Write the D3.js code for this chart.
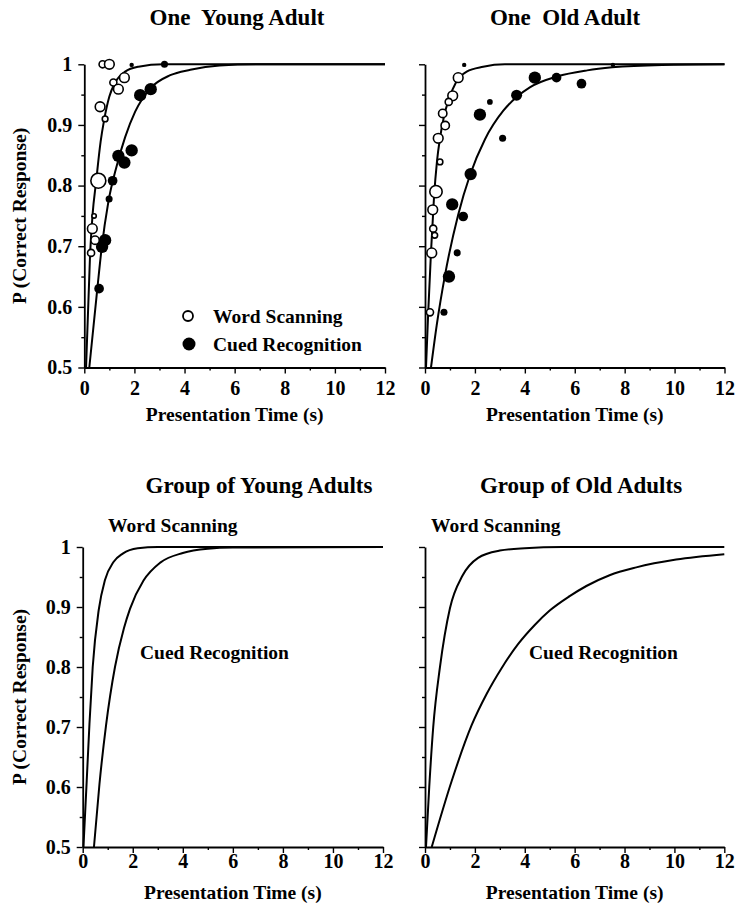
<!DOCTYPE html>
<html>
<head>
<meta charset="utf-8">
<script src="https://cdn.jsdelivr.net/npm/d3@7"></script>
<style>
  body { margin: 0; background: #fff; }
  svg text { font-family: "Liberation Serif", "DejaVu Serif", serif; font-weight: bold; fill: #000; white-space: pre; }
</style>
</head>
<body>
<div id="chart"></div>
<script>
// ---------------------------------------------------------------- data
const xTicks = [0, 2, 4, 6, 8, 10, 12];
const yTicks = [0.5, 0.6, 0.7, 0.8, 0.9, 1];
const yTickLabels = ["0.5", "0.6", "0.7", "0.8", "0.9", "1"];
const panelTitles = ["One  Young Adult", "One  Old Adult", "Group of Young Adults", "Group of Old Adults"];
const seriesNames = ["Word Scanning", "Cued Recognition"];

// points: [time (s), P(correct), relative n]
const youngWordPts = [[0.73, 1.0, 2], [1.0, 1.0, 3], [1.16, 0.97, 2], [1.36, 0.959, 3], [1.6, 0.978, 3],
  [0.63, 0.93, 3], [0.83, 0.91, 1.5], [0.56, 0.808, 5], [0.39, 0.75, 1], [0.32, 0.729, 3],
  [0.43, 0.71, 2.5], [0.27, 0.689, 2]];
const youngCuedPts = [[1.89, 0.999, 1], [3.2, 1.0, 2], [2.23, 0.949, 4], [2.65, 0.959, 4], [1.36, 0.849, 4],
  [1.89, 0.858, 4], [1.6, 0.838, 4], [1.13, 0.808, 3], [0.99, 0.778, 2], [0.83, 0.71, 4],
  [0.71, 0.699, 4], [0.59, 0.63, 3]];
const oldWordPts = [[1.33, 0.978, 3], [1.11, 0.948, 3], [0.95, 0.938, 2], [0.71, 0.919, 2.5], [0.81, 0.899, 2.5],
  [0.53, 0.878, 3], [0.6, 0.839, 1.5], [0.44, 0.79, 4], [0.31, 0.76, 3], [0.33, 0.729, 2],
  [0.39, 0.718, 1.5], [0.27, 0.689, 3], [0.2, 0.591, 2]];
const oldCuedPts = [[1.57, 0.999, 1], [7.53, 0.999, 1], [4.4, 0.978, 4], [5.27, 0.978, 3], [6.27, 0.968, 3],
  [3.67, 0.949, 3.5], [2.6, 0.938, 1.5], [2.2, 0.917, 4], [3.11, 0.878, 2], [1.83, 0.819, 4],
  [1.09, 0.769, 4], [1.53, 0.749, 3], [1.29, 0.689, 2], [0.96, 0.65, 4], [0.76, 0.591, 2]];

// fitted curves, traced: [time (s), P]
const youngWordFit = [[0.07, 0.5], [0.23, 0.686], [0.33, 0.752], [0.47, 0.806], [0.65, 0.872], [0.79, 0.908],
  [1.0, 0.947], [1.23, 0.97], [1.63, 0.988], [2.16, 0.996], [3.16, 1.0], [12, 1.0]];
const youngCuedFit = [[0.2, 0.5], [0.52, 0.63], [0.69, 0.696], [0.96, 0.773], [1.29, 0.832], [1.63, 0.88],
  [2.03, 0.922], [2.63, 0.96], [3.43, 0.982], [4.23, 0.991], [5.4, 0.998], [7, 1.0], [12, 1.0]];
const oldWordFit = [[0.04, 0.5], [0.13, 0.592], [0.24, 0.69], [0.36, 0.78], [0.48, 0.84], [0.6, 0.878],
  [0.76, 0.914], [0.97, 0.944], [1.24, 0.97], [1.67, 0.988], [2.33, 0.996], [3.2, 1.0], [12, 1.0]];
const oldCuedFit = [[0.24, 0.5], [0.47, 0.57], [0.8, 0.652], [1.33, 0.752], [1.8, 0.817], [2.4, 0.876],
  [3.13, 0.923], [3.67, 0.946], [4.2, 0.962], [5.3, 0.98], [6.5, 0.99], [7.5, 0.995], [9.5, 0.999], [12, 1.0]];
const groupYoungWordFit = [[0.03, 0.5], [0.16, 0.61], [0.27, 0.705], [0.4, 0.8], [0.64, 0.895], [0.89, 0.945],
  [1.23, 0.975], [1.6, 0.989], [2.2, 0.998], [3, 1.0], [12, 1.0]];
const groupYoungCuedFit = [[0.45, 0.5], [0.67, 0.605], [0.93, 0.702], [1.29, 0.8], [1.65, 0.865], [1.89, 0.897],
  [2.43, 0.944], [3.1, 0.974], [4, 0.99], [5, 0.997], [6, 0.999], [12, 1.0]];
const groupOldWordFit = [[0.04, 0.5], [0.17, 0.6], [0.33, 0.7], [0.6, 0.8], [1.0, 0.898], [1.5, 0.952],
  [2.13, 0.982], [3, 0.994], [4, 0.998], [5.5, 1.0], [12, 1.0]];
const groupOldCuedFit = [[0.27, 0.5], [1.07, 0.61], [1.87, 0.703], [2.47, 0.755], [3.07, 0.798], [3.73, 0.838],
  [4.4, 0.87], [5.0, 0.894], [5.8, 0.918], [6.47, 0.935], [7.4, 0.953], [8.47, 0.966], [10.07, 0.979], [12, 0.988]];

// ---------------------------------------------------------------- layout
const width = 737;
const height = 905;
const serif = "'Liberation Serif', 'DejaVu Serif', serif";

const panels = [
  { title: panelTitles[0], left: 84.3, right: 385, top: 64.3, bottom: 367.5, titleX: 237, titleY: 25,
    pad: 7, xTitleY: 421, yLabels: true, fits: [youngWordFit, youngCuedFit], open: youngWordPts, filled: youngCuedPts },
  { title: panelTitles[1], left: 425, right: 724.5, top: 64.3, bottom: 367.5, titleX: 565, titleY: 25,
    pad: 7, xTitleY: 421, yLabels: false, fits: [oldWordFit, oldCuedFit], open: oldWordPts, filled: oldCuedPts },
  { title: panelTitles[2], left: 82.7, right: 383, top: 547, bottom: 847, titleX: 259, titleY: 493,
    pad: 1, xTitleY: 899, yLabels: true, fits: [groupYoungWordFit, groupYoungCuedFit], open: [], filled: [] },
  { title: panelTitles[3], left: 425, right: 724.3, top: 547, bottom: 847, titleX: 581, titleY: 493,
    pad: 1, xTitleY: 899, yLabels: false, fits: [groupOldWordFit, groupOldCuedFit], open: [], filled: [] }
];

const svg = d3.select("#chart").append("svg")
  .attr("width", width)
  .attr("height", height);

const radius = d3.scaleLinear().domain([1, 5]).range([2.2, 7.5]);

let drawPanel = (p) => {
  let x = d3.scaleLinear().domain([0, 12]).range([p.left, p.right]);
  let y = d3.scaleLinear().domain([0.5, 1]).range([p.bottom, p.top]);

  let g = svg.append("g");

  //------------------------------------------------ minor ticks
  g.append("g")
    .attr("transform", "translate(0," + p.bottom + ")")
    .call(d3.axisBottom(x).tickValues(d3.range(1, 12, 2)).tickSize(3).tickFormat(""))
    .call(a => a.select(".domain").remove());
  g.append("g")
    .attr("transform", "translate(" + p.left + ",0)")
    .call(d3.axisLeft(y).tickValues([0.55, 0.65, 0.75, 0.85, 0.95]).tickSize(3).tickFormat(""))
    .call(a => a.select(".domain").remove());

  //------------------------------------------------ major axes
  let xAxis = d3.axisBottom(x).tickValues(xTicks).tickSize(6).tickSizeOuter(0).tickPadding(p.pad)
    .tickFormat(d3.format("d"));
  let yAxis = d3.axisLeft(y).tickValues(yTicks).tickSize(6).tickSizeOuter(0).tickPadding(6)
    .tickFormat((d, i) => p.yLabels ? yTickLabels[i] : "");

  g.append("g")
    .attr("class", "axis x")
    .attr("transform", "translate(0," + p.bottom + ")")
    .call(xAxis);
  g.append("g")
    .attr("class", "axis y")
    .attr("transform", "translate(" + p.left + ",0)")
    .call(yAxis);

  g.selectAll(".axis")
    .attr("font-family", serif)
    .attr("font-size", 20)
    .attr("font-weight", "bold");
  g.selectAll(".tick line").attr("stroke-width", 1.4);
  g.selectAll(".domain").attr("stroke-width", 1.8);
  g.selectAll(".tick text")
    .style("font-family", serif)
    .style("font-weight", "bold")
    .style("font-size", "20px");

  //------------------------------------------------ fitted curves
  let line = d3.line()
    .x(d => x(d[0]))
    .y(d => y(d[1]))
    .curve(d3.curveMonotoneX);

  g.selectAll("path.fit")
    .data(p.fits)
    .enter().append("path")
    .attr("class", "fit")
    .attr("d", line)
    .attr("fill", "none")
    .attr("stroke", "#000")
    .attr("stroke-width", 2);

  //------------------------------------------------ data points
  g.selectAll("circle.filled")
    .data(p.filled)
    .enter().append("circle")
    .attr("class", "filled")
    .attr("cx", d => x(d[0]))
    .attr("cy", d => y(d[1]))
    .attr("r", d => radius(d[2]))
    .attr("fill", "#000");

  g.selectAll("circle.open")
    .data(p.open)
    .enter().append("circle")
    .attr("class", "open")
    .attr("cx", d => x(d[0]))
    .attr("cy", d => y(d[1]))
    .attr("r", d => radius(d[2]))
    .attr("fill", "#fff")
    .attr("stroke", "#000")
    .attr("stroke-width", 1.6);

  //------------------------------------------------ text
  g.append("text")
    .attr("x", p.titleX)
    .attr("y", p.titleY)
    .attr("text-anchor", "middle")
    .style("font-size", "23px")
    .text(p.title);

  g.append("text")
    .attr("x", (p.left + p.right) / 2)
    .attr("y", p.xTitleY)
    .attr("text-anchor", "middle")
    .style("font-size", "19.5px")
    .text("Presentation Time (s)");

  if (p.yLabels) {
    g.append("text")
      .attr("transform", "translate(26," + ((p.top + p.bottom) / 2) + ") rotate(-90)")
      .attr("text-anchor", "middle")
      .style("font-size", "19.5px")
      .text("P (Correct Response)");
  }
  return { x: x, y: y, g: g };
};

let drawn = panels.map(drawPanel);

//------------------------------------------------ legend (top left)
let lg = drawn[0].g;
lg.append("circle").attr("cx", 188).attr("cy", 316).attr("r", 5)
  .attr("fill", "#fff").attr("stroke", "#000").attr("stroke-width", 1.8);
lg.append("circle").attr("cx", 189).attr("cy", 344).attr("r", 6.5).attr("fill", "#000");
lg.selectAll("text.leg")
  .data(seriesNames)
  .enter().append("text")
  .attr("class", "leg")
  .attr("x", 213)
  .attr("y", (d, i) => 316 + i * 28)
  .attr("dy", "0.35em")
  .style("font-size", "19.5px")
  .text(d => d);

//------------------------------------------------ curve labels (bottom)
[drawn[2], drawn[3]].forEach((d, i) => {
  d.g.append("text")
    .attr("x", i === 0 ? 108 : 431)
    .attr("y", 532)
    .style("font-size", "19.5px")
    .text(seriesNames[0]);
  d.g.append("text")
    .attr("x", i === 0 ? 140 : 529)
    .attr("y", 659)
    .style("font-size", "19.5px")
    .text(seriesNames[1]);
});
</script>
</body>
</html>
